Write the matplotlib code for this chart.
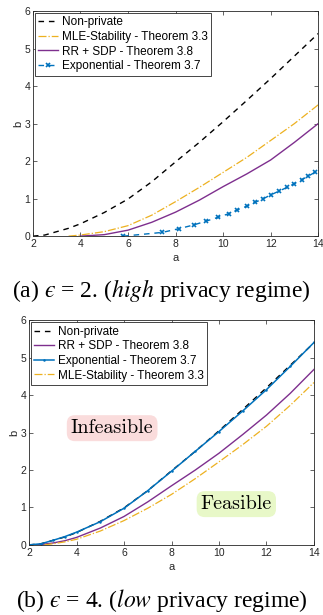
import matplotlib
matplotlib.use("Agg")
import matplotlib.pyplot as plt

plt.rcParams["font.family"] = ["Liberation Sans", "DejaVu Sans"]
plt.rcParams["mathtext.fontset"] = "stix"

# a-grid used for the read-off curves
a_grid = [2, 2.5, 3, 3.5, 4, 5, 6, 7, 8, 9, 10, 11, 12, 13, 14]

# Non-private bound (same in both panels)
nonpriv_b = [0, 0.03, 0.12, 0.21, 0.33, 0.63, 0.99, 1.45, 1.98, 2.5, 3.05, 3.62, 4.2, 4.8, 5.4]

# (a) eps = 2
mle2_a = [3.5, 4, 5, 6, 7, 8, 9, 10, 11, 12, 13, 14]
mle2_b = [0, 0.03, 0.12, 0.28, 0.56, 0.92, 1.3, 1.7, 2.1, 2.55, 3.0, 3.5]
rr2_a = [4, 5, 6, 7, 8, 9, 10, 11, 12, 13, 14]
rr2_b = [0, 0.04, 0.16, 0.37, 0.64, 0.96, 1.32, 1.66, 2.03, 2.5, 3.0]
exp2_a = [5.8, 7.44, 8.15, 8.77, 9.28, 9.78, 10.24, 10.6, 11.0, 11.34,
          11.7, 12.0, 12.35, 12.69, 13.0, 13.3, 13.58, 13.86, 14.14]
exp2_b = [0, 0.1, 0.2, 0.3, 0.4, 0.5, 0.6, 0.7, 0.8, 0.9,
          1.0, 1.1, 1.2, 1.3, 1.4, 1.5, 1.6, 1.7, 1.8]

# (b) eps = 4
rr4_a = [2.2, 2.5, 3, 3.5, 4, 5, 6, 7, 8, 9, 10, 11, 12, 13, 14]
rr4_b = [0, 0.01, 0.05, 0.11, 0.2, 0.45, 0.76, 1.15, 1.58, 2.0, 2.45, 2.95, 3.47, 4.05, 4.69]
exp4_b = [0, 0.03, 0.12, 0.22, 0.34, 0.62, 0.98, 1.45, 1.97, 2.5, 3.03, 3.58, 4.15, 4.77, 5.41]
mle4_a = [2.65, 3, 3.5, 4, 5, 6, 7, 8, 9, 10, 11, 12, 13, 14]
mle4_b = [0, 0.03, 0.08, 0.15, 0.37, 0.65, 0.98, 1.35, 1.77, 2.22, 2.68, 3.17, 3.73, 4.34]

x_ticks = [2, 4, 6, 8, 10, 12, 14]
y_ticks = [0, 1, 2, 3, 4, 5, 6]

BLACK = "#000000"
ORANGE = "#EDB120"
PURPLE = "#7E2F8E"
BLUE = "#0072BD"
AXCOL = "#262626"


def style_axes(ax):
    ax.set_xlim(2, 14)
    ax.set_ylim(0, 6)
    ax.set_xticks(x_ticks)
    ax.set_yticks(y_ticks)
    ax.tick_params(direction="in", length=3, width=0.5, labelsize=7.5,
                   colors=AXCOL, top=True, right=True, pad=2)
    for s in ax.spines.values():
        s.set_linewidth(0.6)
        s.set_color(AXCOL)
    ax.set_xlabel("a", fontsize=8, color=AXCOL, labelpad=3)
    ax.set_ylabel("b", fontsize=8, color=AXCOL, labelpad=1)


def legend(ax):
    leg = ax.legend(loc="upper left", fontsize=8.5, handlelength=1.7,
                    handletextpad=0.3, labelspacing=0.22, borderpad=0.3,
                    borderaxespad=0.15, fancybox=False, framealpha=1)
    leg.get_frame().set_edgecolor(AXCOL)
    leg.get_frame().set_linewidth(0.6)


fig = plt.figure(figsize=(3.23, 6.15), dpi=100)

# ---- panel (a)
ax1 = fig.add_axes([0.102, 0.616, 0.883, 0.366])
ax1.plot(a_grid, nonpriv_b, color=BLACK, ls=(0, (4, 3.5)), lw=1.0, label="Non-private")
ax1.plot(mle2_a, mle2_b, color=ORANGE, ls="-.", lw=0.9, label="MLE-Stability - Theorem 3.3")
ax1.plot(rr2_a, rr2_b, color=PURPLE, ls="-", lw=1.0, label="RR + SDP - Theorem 3.8")
ax1.plot(exp2_a, exp2_b, color=BLUE, ls=(0, (4, 3.5)), lw=1.0, marker="x",
         ms=2.2, mew=1.2, label="Exponential - Theorem 3.7")
style_axes(ax1)
legend(ax1)
fig.text(0.5, 1 - 290 / 615, "(a) $\u03f5$ = 2. ($\\it{high}$ privacy regime)",
         ha="center", va="center", fontsize=17, family="Liberation Serif")

# ---- panel (b)
ax2 = fig.add_axes([0.090, 0.114, 0.882, 0.365])
ax2.plot(a_grid, nonpriv_b, color=BLACK, ls=(0, (4, 3.5)), lw=1.0, label="Non-private")
ax2.plot(rr4_a, rr4_b, color=PURPLE, ls="-", lw=1.0, label="RR + SDP - Theorem 3.8")
ax2.plot(a_grid, exp4_b, color=BLUE, ls="-", lw=1.1, marker=".", ms=1.6,
         label="Exponential - Theorem 3.7")
ax2.plot(mle4_a, mle4_b, color=ORANGE, ls="-.", lw=0.9, label="MLE-Stability - Theorem 3.3")
style_axes(ax2)
legend(ax2)

ax2.text(5.5, 3.12, "Infeasible", family="cmr10", fontsize=14.5, ha="center", va="center",
         bbox=dict(boxstyle="round,pad=0.2,rounding_size=0.4", fc="#FADCDC", ec="none"))
ax2.text(10.73, 1.09, "Feasible", family="cmr10", fontsize=14.5, ha="center", va="center",
         bbox=dict(boxstyle="round,pad=0.2,rounding_size=0.4", fc="#E8F8C8", ec="none"))

fig.text(0.5, 1 - 600 / 615, "(b) $\u03f5$ = 4. ($\\it{low}$ privacy regime)",
         ha="center", va="center", fontsize=17, family="Liberation Serif")

fig.savefig("out.png", dpi=100)
